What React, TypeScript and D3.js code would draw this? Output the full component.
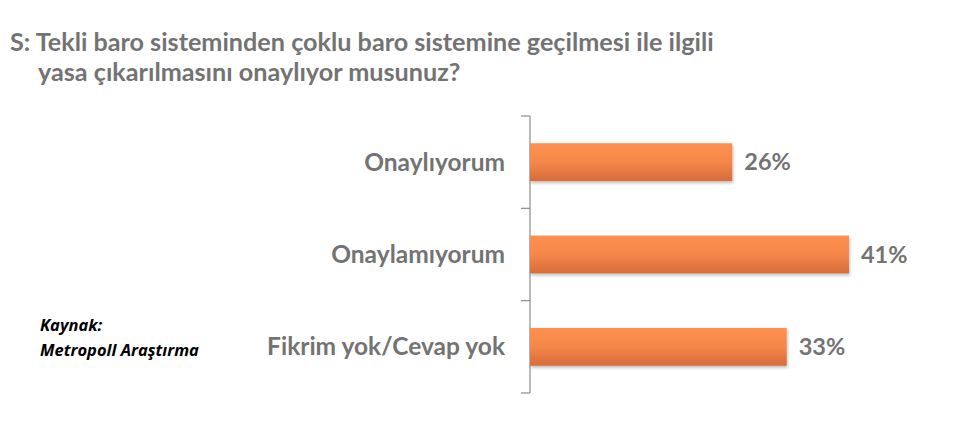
import React from "react";
import * as d3 from "d3";

const categories = ["Onaylıyorum", "Onaylamıyorum", "Fikrim yok/Cevap yok"];
const values = [26, 41, 33];
const valueLabels = ["26%", "41%", "33%"];
const titleLines = [
  "S: Tekli baro sisteminden çoklu baro sistemine geçilmesi ile ilgili",
  "yasa çıkarılmasını onaylıyor musunuz?",
];
const sourceLines = ["Kaynak:", "Metropoll Araştırma"];

export default function App() {
  const W = 953;
  const H = 421;
  const x = d3.scaleLinear().domain([0, 50]).range([530, 919]);
  const y = d3.scaleBand<string>().domain(categories).range([116, 393]).paddingInner(0.59).paddingOuter(0.295);
  const font = "Lato, 'Open Sans', sans-serif";
  const gray = "#737373";
  const tickYs = [116, ...categories.slice(1).map((c) => (y(c) as number) - (y.step() * y.paddingInner()) / 2), 393];

  return (
    <svg width={W} height={H} style={{ position: "absolute", left: 0, top: 0, background: "#fff" }}>
      <defs>
        <linearGradient id="barGrad" x1="0" y1="0" x2="0" y2="1">
          <stop offset="0" stopColor="#fd9150" />
          <stop offset="0.5" stopColor="#f6864a" />
          <stop offset="1" stopColor="#d56c3b" />
        </linearGradient>
        <filter id="shadow" x="-5%" y="-20%" width="110%" height="160%">
          <feDropShadow dx="1" dy="2" stdDeviation="1.5" floodColor="#000" floodOpacity="0.25" />
        </filter>
      </defs>
      <text fontFamily={font} fontWeight="bold" fontSize={25.2} fill={gray}>
        <tspan x={10} y={51}>{titleLines[0]}</tspan>
        <tspan x={38} y={81}>{titleLines[1]}</tspan>
      </text>
      <line x1={530} x2={530} y1={116} y2={393} stroke="#8c8c8c" strokeWidth={1.2} />
      {tickYs.map((ty, i) => (
        <line key={i} x1={521} x2={530} y1={ty} y2={ty} stroke="#8c8c8c" strokeWidth={1.2} />
      ))}
      {categories.map((c, i) => {
        const by = y(c) as number;
        const bh = y.bandwidth();
        return (
          <g key={c}>
            <rect x={x(0)} y={by} width={x(values[i]) - x(0)} height={bh} fill="url(#barGrad)" filter="url(#shadow)" />
            <text x={505} y={by + bh / 2} dy="0.35em" textAnchor="end" fontFamily={font} fontWeight="bold" fontSize={24.5} fill={gray}>
              {c}
            </text>
            <text x={x(values[i]) + 12} y={by + bh / 2} dy="0.35em" fontFamily={font} fontWeight="bold" fontSize={23.5} fill={gray}>
              {valueLabels[i]}
            </text>
          </g>
        );
      })}
      <text fontFamily="'Open Sans', sans-serif" fontWeight="bold" fontStyle="italic" fontSize={16.5} fill="#000">
        <tspan x={40} y={331}>{sourceLines[0]}</tspan>
        <tspan x={40} y={356}>{sourceLines[1]}</tspan>
      </text>
    </svg>
  );
}
